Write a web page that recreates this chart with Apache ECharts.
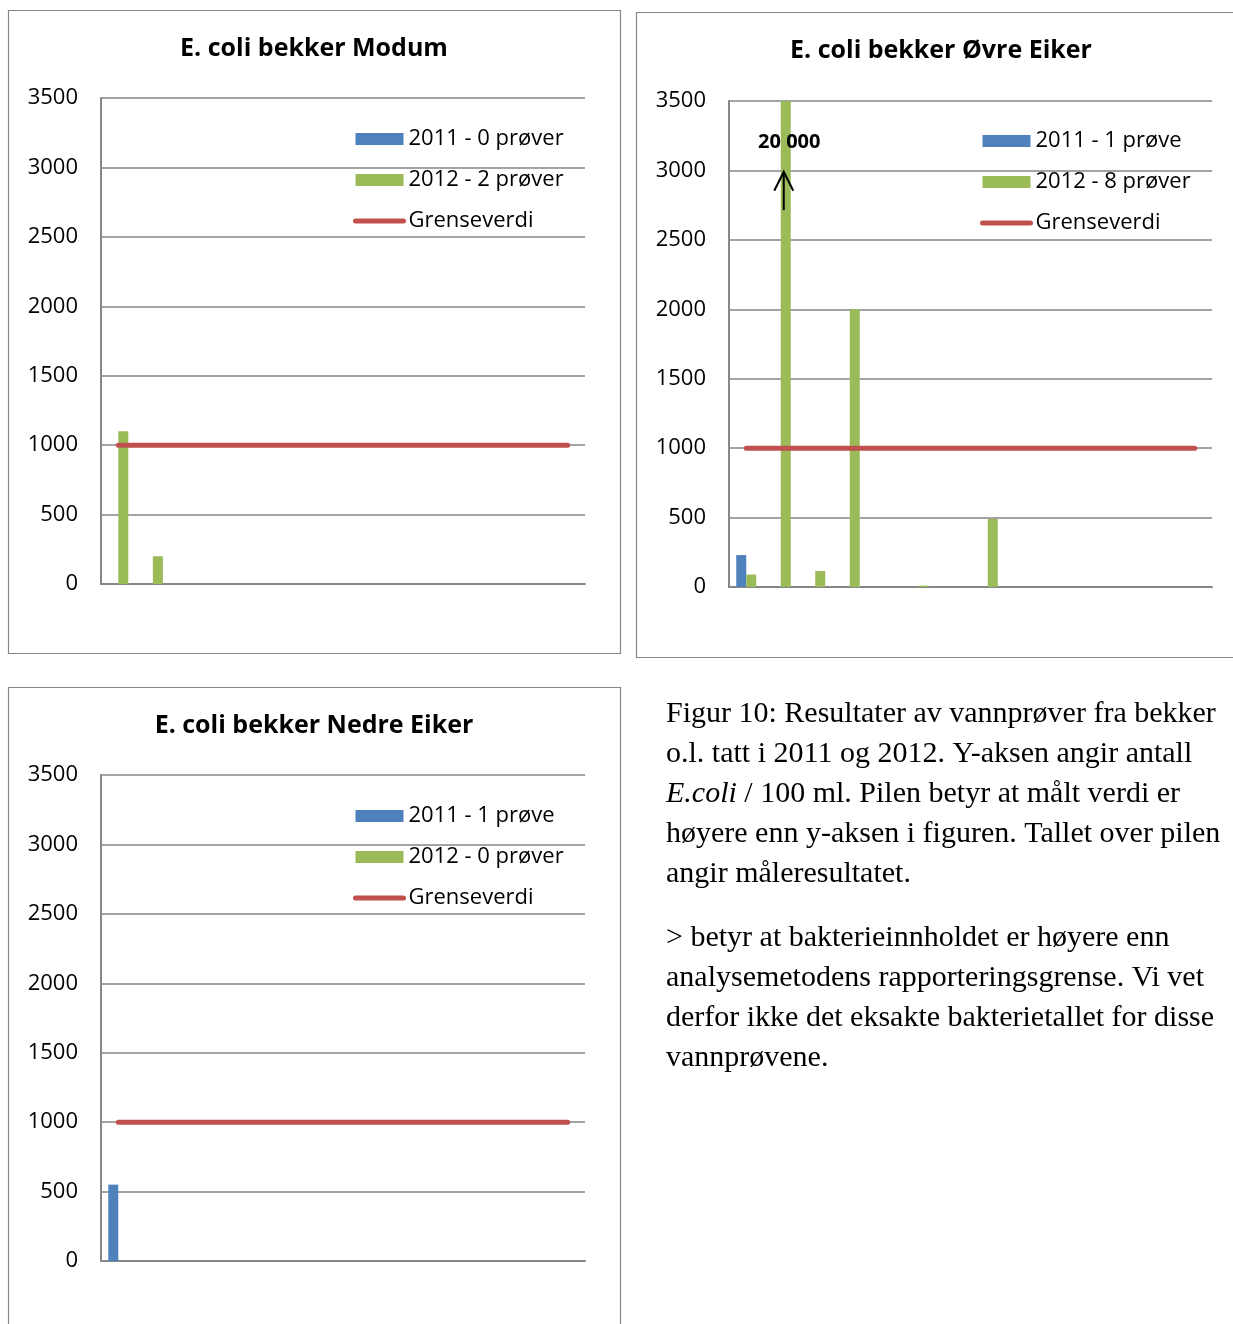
<!DOCTYPE html>
<html>
<head>
<meta charset="utf-8">
<script src="https://cdn.jsdelivr.net/npm/echarts@6/dist/echarts.min.js"></script>
<style>
html,body{margin:0;padding:0;background:#fff;}
#c{width:1233px;height:1324px;}
</style>
</head>
<body>
<div id="c"></div>
<script>
// ---- data ----
const categories = ['1','2','3','4','5','6','7','8','9','10','11','12','13','14'];
const yMin = 0, yMax = 3500, yStep = 500;

const modumNames = ['2011 - 0 prøver', '2012 - 2 prøver', 'Grenseverdi'];
const modum2011 = [null,null,null,null,null,null,null,null,null,null,null,null,null,null];
const modum2012 = [1100,200,null,null,null,null,null,null,null,null,null,null,null,null];

const ovreNames = ['2011 - 1 prøve', '2012 - 8 prøver', 'Grenseverdi'];
const ovre2011 = [230,null,null,null,null,null,null,null,null,null,null,null,null,null];
const ovre2012 = [90,20000,115,2000,0,10,0,490,null,null,null,null,null,null];

const nedreNames = ['2011 - 1 prøve', '2012 - 0 prøver', 'Grenseverdi'];
const nedre2011 = [550,null,null,null,null,null,null,null,null,null,null,null,null,null];
const nedre2012 = [null,null,null,null,null,null,null,null,null,null,null,null,null,null];

const grenseverdi = [1000,1000,1000,1000,1000,1000,1000,1000,1000,1000,1000,1000,1000,1000];

// annotation on the clipped bar (Øvre Eiker, category index 1)
const arrowCategory = 1;
const arrowBaseValue = 2714;
const arrowTipValue = 2990;
const arrowLabelValue = 3200;
const arrowLabel = '20 000';

const titles = ['E. coli bekker Modum', 'E. coli bekker Øvre Eiker', 'E. coli bekker Nedre Eiker'];

const captionLines1 = [
  'Figur 10: Resultater av vannprøver fra bekker',
  'o.l. tatt i 2011 og 2012. Y-aksen angir antall',
  '{i|E.coli} / 100 ml. Pilen betyr at målt verdi er',
  'høyere enn y-aksen i figuren. Tallet over pilen',
  'angir måleresultatet.'
];
const captionLines2 = [
  '> betyr at bakterieinnholdet er høyere enn',
  'analysemetodens rapporteringsgrense. Vi vet',
  'derfor ikke det eksakte bakterietallet for disse',
  'vannprøvene.'
];

// ---- styles ----
const BLUE = '#4F81BD', GREEN = '#9BBB59', RED = '#C0504D', GRAY = '#868686';
const SANS = '"Open Sans", Lato, sans-serif';
const SERIF = '"Liberation Serif", "DejaVu Serif", serif';
const CAP_FONT = 30;
const TITLE_FONT = 25;

const grids = [
  {left: 101, top: 98, width: 484, height: 486},
  {left: 729, top: 101, width: 483, height: 486},
  {left: 101, top: 775, width: 484, height: 486}
];

function xAxis(i){
  return {
    type: 'category', gridIndex: i, data: categories, boundaryGap: true,
    axisLine: {lineStyle: {color: GRAY, width: 2}},
    axisTick: {show: false}, axisLabel: {show: false}, splitLine: {show: false}
  };
}
function yAxis(i){
  return {
    type: 'value', gridIndex: i, min: yMin, max: yMax, interval: yStep,
    axisLine: {show: true, lineStyle: {color: GRAY, width: 2}},
    axisTick: {show: false},
    axisLabel: {color: '#000', fontSize: 22, fontFamily: SANS, margin: 23, padding: [4, 0, 0, 0],
                formatter: function(v){ return String(v); }},
    splitLine: {show: true, lineStyle: {color: GRAY, width: 1.5}}
  };
}
function bars(i, names, d2011, d2012){
  return [
    {type: 'bar', name: names[0], xAxisIndex: i, yAxisIndex: i, data: d2011,
     barWidth: 10, barGap: '0%', itemStyle: {color: BLUE}, clip: true},
    {type: 'bar', name: names[1], xAxisIndex: i, yAxisIndex: i, data: d2012,
     barWidth: 10, barGap: '0%', itemStyle: {color: GREEN}, clip: true},
    {type: 'line', name: names[2], xAxisIndex: i, yAxisIndex: i, data: grenseverdi,
     symbol: 'none', z: 5, lineStyle: {color: RED, width: 5, cap: 'round'}, itemStyle: {color: RED}}
  ];
}
function legend(names, left, top){
  return {
    data: [
      {name: names[0], icon: 'rect'},
      {name: names[1], icon: 'rect'},
      {name: names[2], itemStyle: {color: 'rgba(0,0,0,0)', borderWidth: 0, opacity: 0},
       lineStyle: {color: RED, width: 5, cap: 'round'}}
    ],
    left: left, top: top, orient: 'vertical', padding: 0,
    itemWidth: 48, itemHeight: 12, itemGap: 19, selectedMode: false,
    textStyle: {fontSize: 22, fontFamily: SANS, color: '#000', lineHeight: 22}
  };
}

const series = [].concat(
  bars(0, modumNames, modum2011, modum2012),
  bars(1, ovreNames, ovre2011, ovre2012),
  bars(2, nedreNames, nedre2011, nedre2012)
);

series.push({
  type: 'custom', xAxisIndex: 1, yAxisIndex: 1, z: 10, silent: true,
  data: [[arrowCategory, arrowBaseValue, arrowTipValue, arrowLabelValue]],
  renderItem: function(params, api){
    const base = api.coord([api.value(0), api.value(1)]);
    const tip = api.coord([api.value(0), api.value(2)]);
    const lab = api.coord([api.value(0), api.value(3)]);
    const dx = 3;
    const x = tip[0] + dx;
    return {
      type: 'group',
      children: [
        {type: 'line', shape: {x1: base[0] + dx, y1: base[1], x2: x, y2: tip[1]},
         style: {stroke: '#000', lineWidth: 2}},
        {type: 'polyline', shape: {points: [[x - 9.5, tip[1] + 19], [x, tip[1]], [x + 9.5, tip[1] + 19]]},
         style: {stroke: '#000', lineWidth: 2, fill: null}},
        {type: 'text', x: lab[0] + 8.5, y: lab[1],
         style: {text: arrowLabel, fontSize: 20, fontWeight: 'bold', fontFamily: SANS, fill: '#000',
                 align: 'center', verticalAlign: 'middle'}}
      ]
    };
  }
});

const graphic = [
  {type: 'rect', shape: {x: 8.5, y: 10.5, width: 612, height: 643}, style: {fill: null, stroke: GRAY, lineWidth: 1.2}, z: -1},
  {type: 'rect', shape: {x: 636.5, y: 12.5, width: 620, height: 645}, style: {fill: null, stroke: GRAY, lineWidth: 1.2}, z: -1},
  {type: 'rect', shape: {x: 8.5, y: 687.5, width: 612, height: 700}, style: {fill: null, stroke: GRAY, lineWidth: 1.2}, z: -1},
  {type: 'text', x: 314, y: 49, style: {text: titles[0], fontSize: TITLE_FONT, fontWeight: 'bold', fontFamily: SANS, fill: '#000', align: 'center', verticalAlign: 'middle'}},
  {type: 'text', x: 941, y: 51, style: {text: titles[1], fontSize: TITLE_FONT, fontWeight: 'bold', fontFamily: SANS, fill: '#000', align: 'center', verticalAlign: 'middle'}},
  {type: 'text', x: 314, y: 726, style: {text: titles[2], fontSize: TITLE_FONT, fontWeight: 'bold', fontFamily: SANS, fill: '#000', align: 'center', verticalAlign: 'middle'}}
];
captionLines1.forEach(function(t, k){
  graphic.push({type: 'text', x: 666, y: 714 + 40 * k,
    style: {text: t, fontSize: CAP_FONT, fontFamily: SERIF, fill: '#000', verticalAlign: 'middle',
            rich: {i: {fontStyle: 'italic', fontSize: CAP_FONT, fontFamily: SERIF, fill: '#000'}}}});
});
captionLines2.forEach(function(t, k){
  graphic.push({type: 'text', x: 666, y: 938 + 40 * k,
    style: {text: t, fontSize: CAP_FONT, fontFamily: SERIF, fill: '#000', verticalAlign: 'middle'}});
});

const chart = echarts.init(document.getElementById('c'), null, {renderer: 'canvas'});
chart.setOption({
  animation: false,
  backgroundColor: '#fff',
  grid: grids,
  xAxis: [xAxis(0), xAxis(1), xAxis(2)],
  yAxis: [yAxis(0), yAxis(1), yAxis(2)],
  legend: [
    legend(modumNames, 353, 128),
    legend(ovreNames, 980, 130),
    legend(nedreNames, 353, 805)
  ],
  series: series,
  graphic: graphic
});
</script>
</body>
</html>
